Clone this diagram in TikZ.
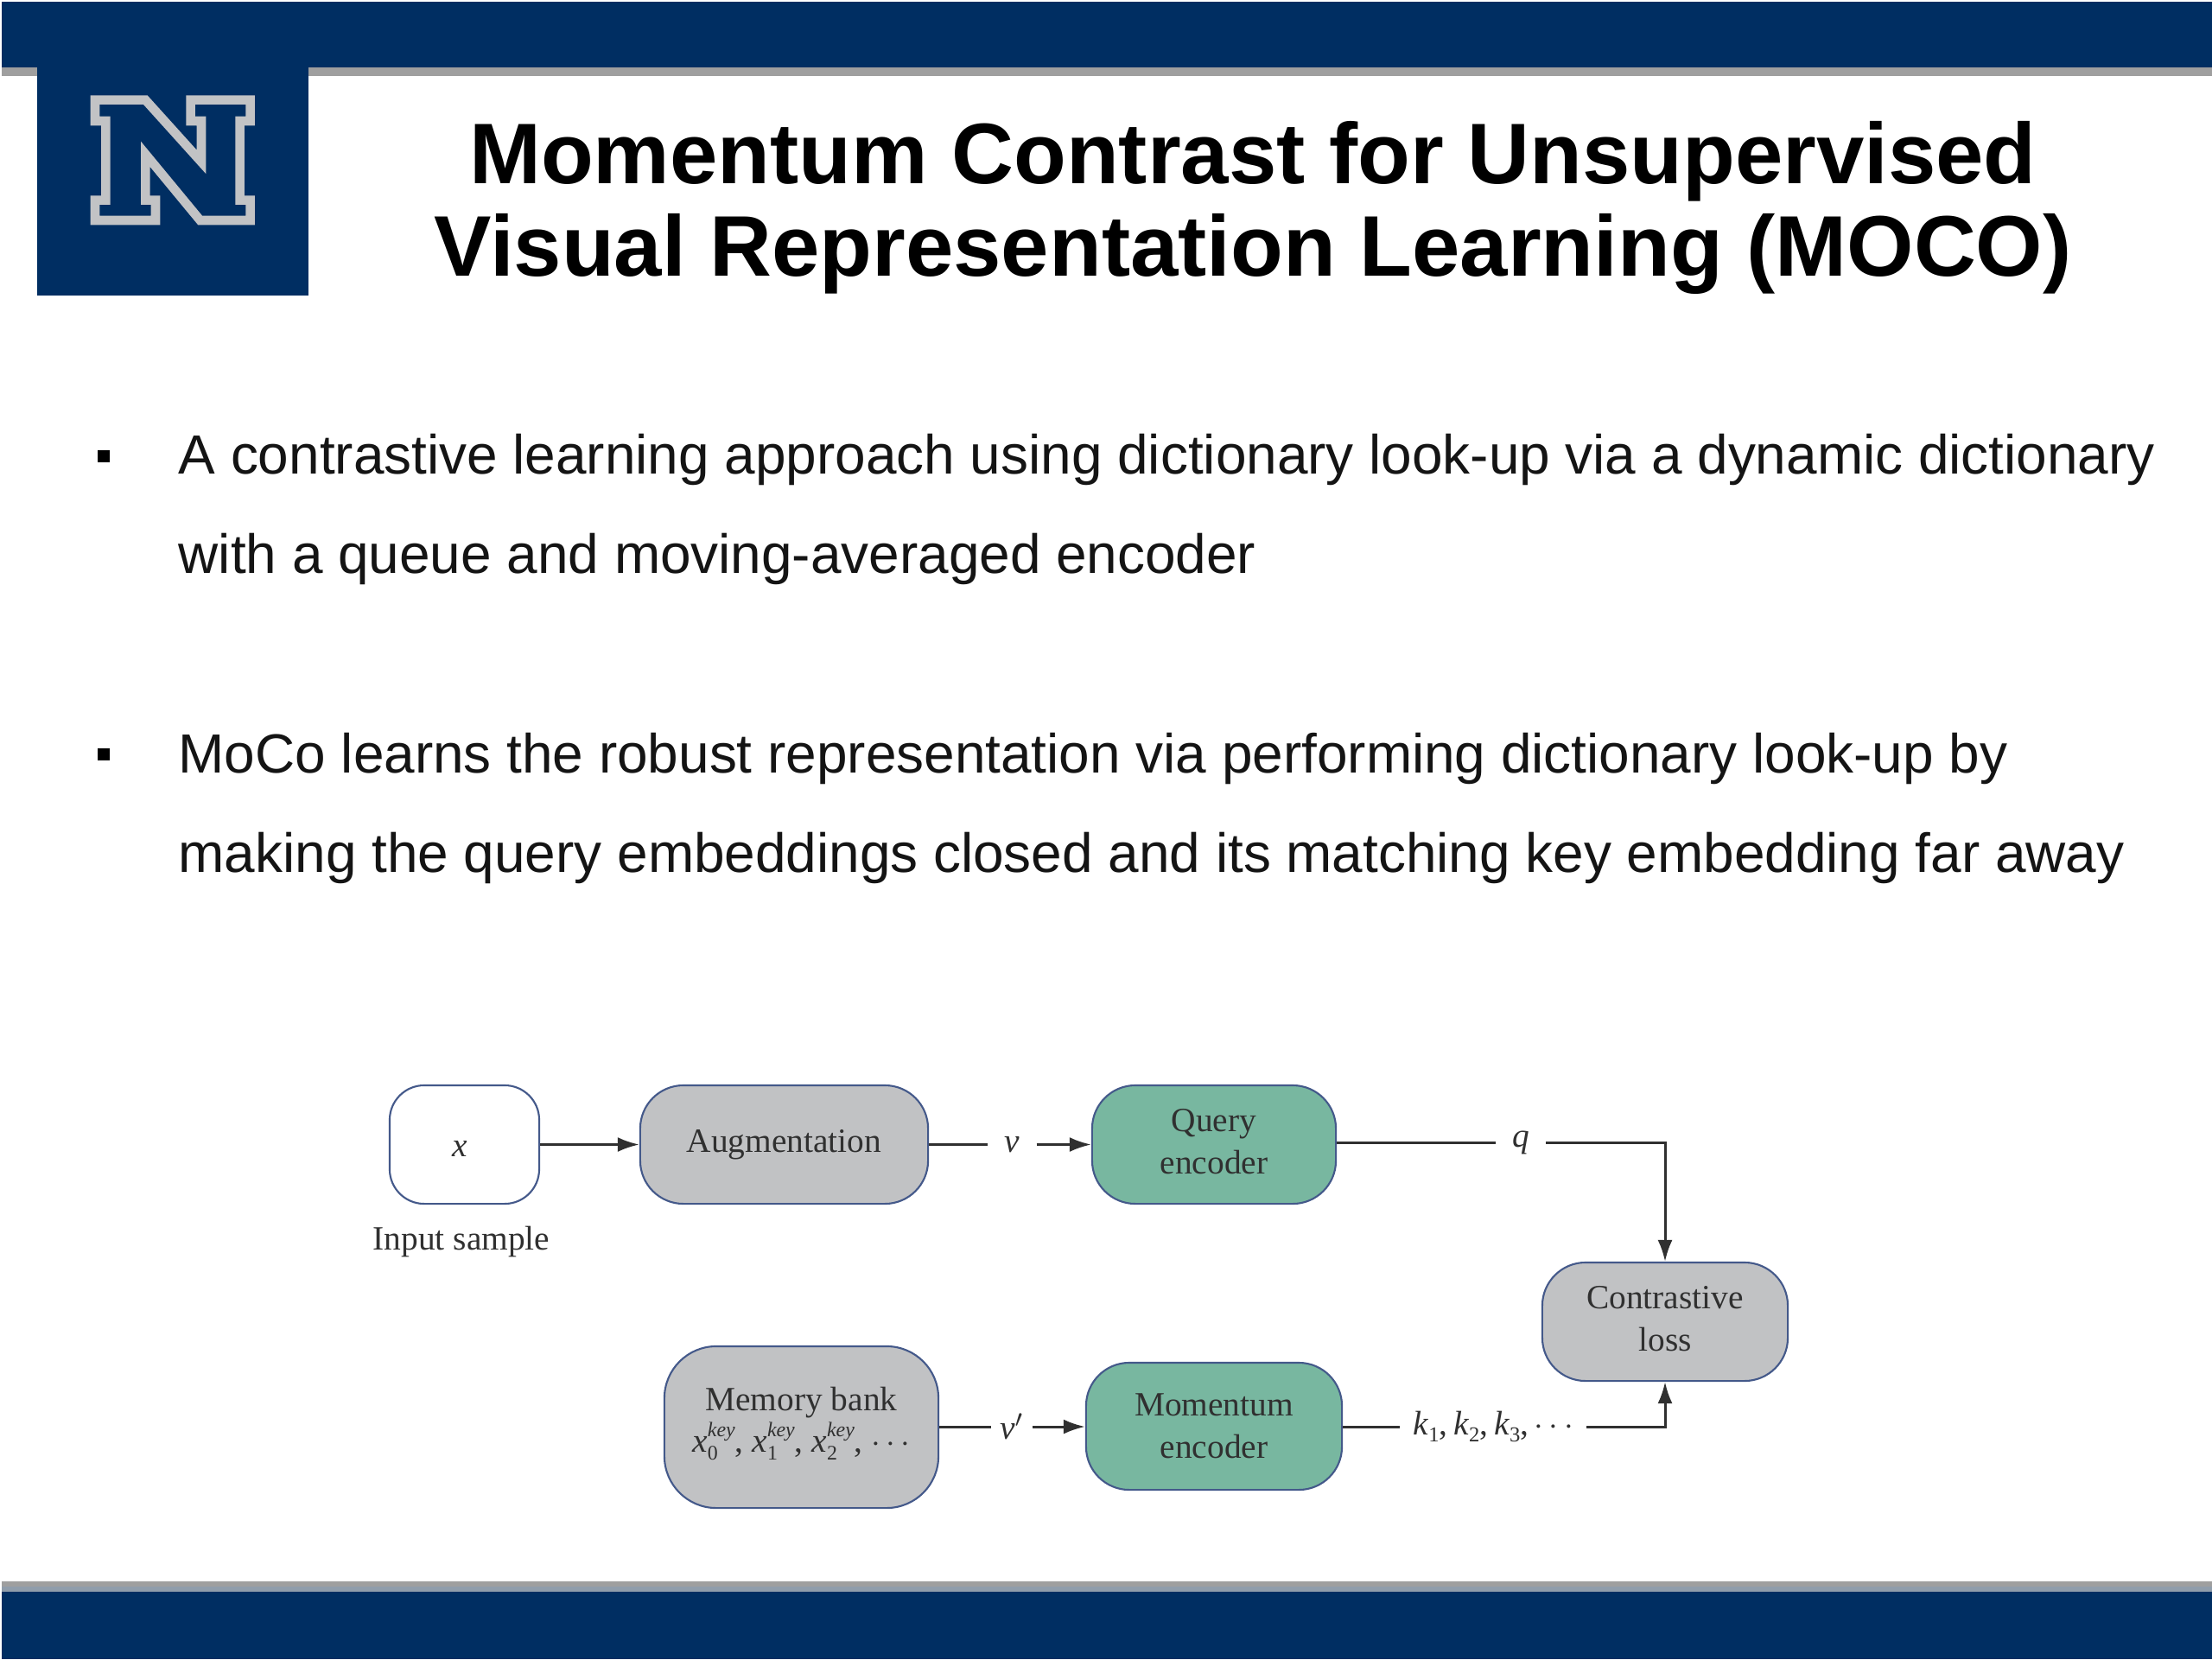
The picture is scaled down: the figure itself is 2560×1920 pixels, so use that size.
\documentclass[tikz,border=0pt]{standalone}
\usepackage{fontspec}
\setmainfont{Liberation Serif}
\newfontfamily\arialfont{Liberation Sans}
\usetikzlibrary{arrows.meta}
\definecolor{navy}{HTML}{002E62}
\definecolor{silver}{HTML}{C2C3C5}
\definecolor{boxgray}{HTML}{C1C2C4}
\definecolor{boxgreen}{HTML}{78B7A0}
\definecolor{boxedge}{HTML}{44598A}
\definecolor{ink}{HTML}{303030}
\newcommand\xkey[1]{\textit{x}\rlap{\raisebox{-0.5ex}{\fontsize{6.8}{8}\selectfont #1}}\raisebox{1.0ex}{\fontsize{6.8}{8}\selectfont\textit{key}}}
\newcommand\ksub[1]{\textit{k}\raisebox{-0.45ex}{\fontsize{7}{8}\selectfont #1}}
\newcommand\lowerpad[1]{\rule[-#1]{0pt}{#1}}
\tikzset{
  flowbox/.style={draw=boxedge,line width=0.6pt,rounded corners=0.5cm,align=center,text=ink,font=\fontsize{11.2}{13.8}\selectfont,inner sep=0pt},
  graybox/.style={flowbox,fill=boxgray},
  greenbox/.style={flowbox,fill=boxgreen},
  whitebox/.style={flowbox,fill=white,rounded corners=0.4cm},
  flowlabel/.style={text=ink,font=\fontsize{11.2}{13.8}\selectfont,inner sep=0pt,minimum height=0.3cm},
  wire/.style={draw=ink,line width=0.85pt},
  wirearrow/.style={wire,-{Latex[length=0.25cm,width=0.17cm]}},
  titleline/.style={anchor=base,inner sep=0pt,font=\arialfont\bfseries\fontsize{28.3}{32}\selectfont,text=black},
  bodyline/.style={anchor=base west,inner sep=0pt,font=\arialfont\fontsize{18.17}{22}\selectfont,text=black!92},
  bulletmark/.style={fill=black,inner sep=0pt,minimum size=0.14cm},
}
\begin{document}
\begin{tikzpicture}[x=0.01cm,y=-0.01cm]
\useasboundingbox (0,0) rectangle (2560,1920);
\fill[white] (0,0) rectangle (2560,1920);
% bands
\fill[gray!75] (2,78) rectangle (2560,88);
\fill[navy] (2,2) rectangle (2560,78);
\fill[gray!75] (2,1830) rectangle (2560,1836);
\fill[gray!55!navy!60] (2,1836) rectangle (2560,1842);
\fill[navy] (2,1842) rectangle (2560,1920);
% logo
\fill[navy] (43,2) rectangle (357,342);
\begin{scope}[xscale=1/3,yscale=1/3]
\draw[silver,line width=3pt,miter limit=8,line join=miter,fill=navy]
 (330,347) -- (505,347) -- (699,562) -- (699,420) -- (662,420) -- (662,347) -- (869,347) -- (869,420) -- (833,420) -- (833,695) -- (869,695) -- (869,765) -- (695,765) -- (505,535) -- (505,695) -- (540,695) -- (540,765) -- (330,765) -- (330,695) -- (367,695) -- (367,420) -- (330,420) -- cycle;
\end{scope}
% title
\node[titleline] (t1) at (1450,212) {Momentum Contrast for Unsupervised};
\node[titleline] (t2) at (1450,319) {Visual Representation Learning (MOCO)};
% body
\node[bulletmark] (b1) at (120,528) {};
\node[bodyline] (l1) at (206,548) {A contrastive learning approach using dictionary look-up via a dynamic dictionary};
\node[bodyline] (l2) at (206,663) {with a queue and moving-averaged encoder};
\node[bulletmark] (b2) at (120,873) {};
\node[bodyline] (l3) at (206,894) {MoCo learns the robust representation via performing dictionary look-up by};
\node[bodyline] (l4) at (206,1009) {making the query embeddings closed and its matching key embedding far away};
% boxes
\node[whitebox,minimum width=1.73cm,minimum height=1.37cm] (x) at (537.5,1324.5) {\rule{0pt}{7.8pt}\textit{x}\hspace{2.8pt}};
\node[flowlabel] (inp) at (534,1437) {Input sample};
\node[graybox,minimum width=3.33cm,minimum height=1.37cm] (aug) at (907.5,1324.5) {Augmentation};
\node[greenbox,minimum width=2.82cm,minimum height=1.37cm] (qe) at (1405,1324.5) {Query\\encoder\lowerpad{2pt}};
\node[graybox,minimum width=2.84cm,minimum height=1.37cm] (cl) at (1927,1529.5) {Contrastive\\loss\lowerpad{2pt}};
\node[graybox,minimum width=3.17cm,minimum height=1.87cm,rounded corners=0.6cm] (mb) at (927.5,1651.5) {Memory bank\\\xkey{0}, \xkey{1}, \xkey{2}, $\cdots$\lowerpad{5pt}};
\node[greenbox,minimum width=2.96cm,minimum height=1.47cm] (me) at (1405,1650.5) {Momentum\\encoder};
% labels
\node[flowlabel,minimum width=0.55cm] (v) at (1171.5,1324.5) {\textit{v}};
\node[flowlabel,minimum width=0.57cm] (q) at (1760,1322) {\textit{q}};
\node[flowlabel,minimum width=0.46cm] (vp) at (1171,1651) {\textit{v}$'$};
\node[flowlabel,minimum width=2.14cm] (k) at (1728,1651) {\ksub{1},\hspace{0.17em}\ksub{2},\hspace{0.17em}\ksub{3},\hspace{0.17em}$\cdots$};
% connectors
\draw[wirearrow] (x) -- (aug);
\draw[wire] (aug) -- (v);
\draw[wirearrow] (v) -- (qe);
\draw[wire] (qe.east |- q) -- (q);
\draw[wirearrow] (q) -| (cl);
\draw[wire] (mb.east |- vp) -- (vp);
\draw[wirearrow] (vp) -- (me.west |- vp);
\draw[wire] (me.east |- k) -- (k);
\draw[wirearrow] (k) -| (cl);
\end{tikzpicture}
\end{document}
